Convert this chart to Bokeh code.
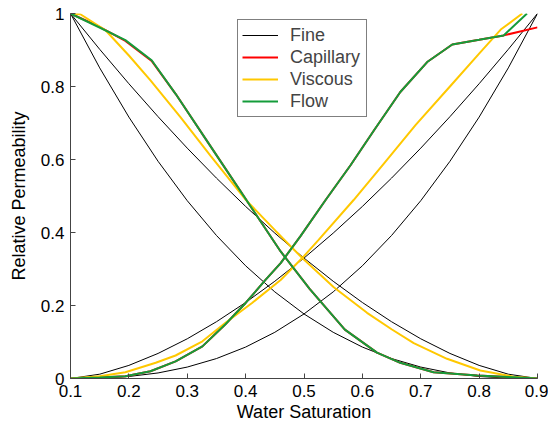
from bokeh.plotting import figure
from bokeh.models import Range1d, FixedTicker, CustomJSTickFormatter, Legend, LegendItem
from bokeh.embed import file_html
from bokeh.resources import INLINE

# ---- data ----
fine_x = [0.1, 0.15, 0.2, 0.25, 0.3, 0.35, 0.4, 0.45, 0.5, 0.55, 0.6, 0.65, 0.7, 0.75, 0.8, 0.85, 0.9]
fine_krw_a = [0, 0.0118, 0.0359, 0.0687, 0.1088, 0.1555, 0.2082, 0.2664, 0.3299, 0.3983, 0.4714, 0.5491, 0.6311, 0.7173, 0.8076, 0.9019, 1.0]
fine_krw_b = [0, 0.001, 0.0055, 0.0152, 0.0313, 0.0546, 0.0861, 0.1266, 0.1768, 0.2373, 0.3088, 0.3919, 0.4871, 0.5951, 0.7162, 0.851, 1.0]
fine_kro_a = [1.0, 0.9019, 0.8076, 0.7173, 0.6311, 0.5491, 0.4714, 0.3983, 0.3299, 0.2664, 0.2082, 0.1555, 0.1088, 0.0687, 0.0359, 0.0118, 0]
fine_kro_b = [1.0, 0.851, 0.7162, 0.5951, 0.4871, 0.3919, 0.3088, 0.2373, 0.1768, 0.1266, 0.0861, 0.0546, 0.0313, 0.0152, 0.0055, 0.001, 0]

flow_krw_x = [0.1, 0.15, 0.194, 0.237, 0.28, 0.326, 0.365, 0.40, 0.434, 0.46, 0.494, 0.537, 0.58, 0.62, 0.665, 0.711, 0.754, 0.80, 0.842, 0.882]
flow_krw_y = [0, 0.003, 0.006, 0.020, 0.047, 0.088, 0.148, 0.207, 0.27, 0.316, 0.39, 0.489, 0.585, 0.68, 0.785, 0.867, 0.915, 0.928, 0.94, 1.0]
flow_kro_x = [0.1, 0.148, 0.194, 0.239, 0.28, 0.33, 0.39, 0.46, 0.51, 0.57, 0.625, 0.665, 0.722, 0.797, 0.85, 0.9]
flow_kro_y = [1.0, 0.963, 0.927, 0.872, 0.78, 0.66, 0.516, 0.348, 0.245, 0.134, 0.071, 0.043, 0.017, 0.008, 0.004, 0]

cap_krw_x = [0.1, 0.15, 0.194, 0.237, 0.28, 0.326, 0.365, 0.40, 0.434, 0.46, 0.494, 0.537, 0.58, 0.62, 0.665, 0.711, 0.754, 0.80, 0.842, 0.9]
cap_krw_y = [0, 0.003, 0.006, 0.020, 0.047, 0.088, 0.148, 0.207, 0.27, 0.316, 0.39, 0.489, 0.585, 0.68, 0.785, 0.867, 0.915, 0.928, 0.94, 0.962]
cap_kro_x = [0.1, 0.148, 0.194, 0.239, 0.28, 0.33, 0.39, 0.46, 0.51, 0.57, 0.625, 0.665, 0.722, 0.797, 0.85, 0.9]
cap_kro_y = [1.0, 0.965, 0.925, 0.870, 0.78, 0.66, 0.516, 0.348, 0.245, 0.134, 0.071, 0.043, 0.017, 0.008, 0.004, 0]

visc_krw_x = [0.1, 0.15, 0.194, 0.246, 0.28, 0.326, 0.365, 0.411, 0.46, 0.497, 0.525, 0.585, 0.64, 0.691, 0.75, 0.80, 0.837, 0.874]
visc_krw_y = [0, 0.006, 0.017, 0.043, 0.063, 0.102, 0.152, 0.207, 0.27, 0.33, 0.38, 0.489, 0.595, 0.694, 0.80, 0.89, 0.956, 1.0]
visc_kro_x = [0.1, 0.117, 0.16, 0.2, 0.237, 0.288, 0.34, 0.40, 0.451, 0.497, 0.551, 0.608, 0.65, 0.688, 0.745, 0.802, 0.859, 0.9]
visc_kro_y = [1.0, 0.998, 0.954, 0.885, 0.817, 0.717, 0.61, 0.49, 0.405, 0.33, 0.25, 0.18, 0.135, 0.097, 0.054, 0.022, 0.005, 0]

x_ticks = [0.1, 0.2, 0.3, 0.4, 0.5, 0.6, 0.7, 0.8, 0.9]
y_ticks = [0, 0.2, 0.4, 0.6, 0.8, 1.0]

FONT = "Liberation Sans"
C_FINE = "#000000"
C_CAP = "#ff0000"
C_VISC = "#ffc800"
C_FLOW = "#149c3a"

p = figure(width=548, height=424, output_backend="svg", toolbar_location=None,
           x_range=Range1d(0.1, 0.9), y_range=Range1d(0, 1),
           min_border_left=70, min_border_right=11, min_border_top=13, min_border_bottom=45)
p.outline_line_color = None
p.grid.visible = False

r_fine = [p.line(fine_x, fine_krw_a, line_color=C_FINE, line_width=1),
          p.line(fine_x, fine_krw_b, line_color=C_FINE, line_width=1),
          p.line(fine_x, fine_kro_a, line_color=C_FINE, line_width=1),
          p.line(fine_x, fine_kro_b, line_color=C_FINE, line_width=1)]
r_cap = [p.line(cap_krw_x, cap_krw_y, line_color=C_CAP, line_width=2),
         p.line(cap_kro_x, cap_kro_y, line_color=C_CAP, line_width=2)]
r_visc = [p.line(visc_krw_x, visc_krw_y, line_color=C_VISC, line_width=2),
          p.line(visc_kro_x, visc_kro_y, line_color=C_VISC, line_width=2)]
r_flow = [p.line(flow_krw_x, flow_krw_y, line_color=C_FLOW, line_width=2),
          p.line(flow_kro_x, flow_kro_y, line_color=C_FLOW, line_width=2)]

for ax in (p.xaxis[0], p.yaxis[0]):
    ax.major_tick_in = 5
    ax.major_tick_out = 0
    ax.minor_tick_line_color = None
    ax.axis_line_color = "#444444"
    ax.major_tick_line_color = "#444444"
    ax.major_label_text_font = FONT
    ax.major_label_text_font_size = "17px"
    ax.major_label_text_color = "#000000"
    ax.axis_label_text_font = FONT
    ax.axis_label_text_font_size = "18px"
    ax.axis_label_text_font_style = "normal"
    ax.axis_label_text_color = "#000000"

p.xaxis.ticker = FixedTicker(ticks=x_ticks)
p.yaxis.ticker = FixedTicker(ticks=y_ticks)
p.xaxis.formatter = CustomJSTickFormatter(code="return tick.toFixed(1);")
p.yaxis.formatter = CustomJSTickFormatter(code="if (Math.abs(tick) < 1e-9) return '0'; if (Math.abs(tick-1) < 1e-9) return '1'; return tick.toFixed(1);")
p.xaxis.axis_label = "Water Saturation"
p.yaxis.axis_label = "Relative Permeability"
p.xaxis.major_label_standoff = 6
p.xaxis.axis_label_standoff = 2
p.yaxis.major_label_standoff = 6
p.yaxis.axis_label_standoff = 9

legend = Legend(items=[LegendItem(label="Fine", renderers=[r_fine[0]]),
                       LegendItem(label="Capillary", renderers=[r_cap[0]]),
                       LegendItem(label="Viscous", renderers=[r_visc[0]]),
                       LegendItem(label="Flow", renderers=[r_flow[0]])],
                location=(167, 261), orientation="vertical")
legend.label_text_font = FONT
legend.label_text_font_size = "18px"
legend.label_height = 22
legend.label_width = 72
legend.glyph_height = 22
legend.glyph_width = 36
legend.spacing = 0
legend.padding = 4
legend.margin = 0
legend.label_standoff = 12
legend.border_line_color = "#000000"
legend.border_line_width = 1
legend.background_fill_color = "#ffffff"
legend.background_fill_alpha = 1.0
p.add_layout(legend, "center")

open("out.html", "w").write(file_html(p, INLINE))
